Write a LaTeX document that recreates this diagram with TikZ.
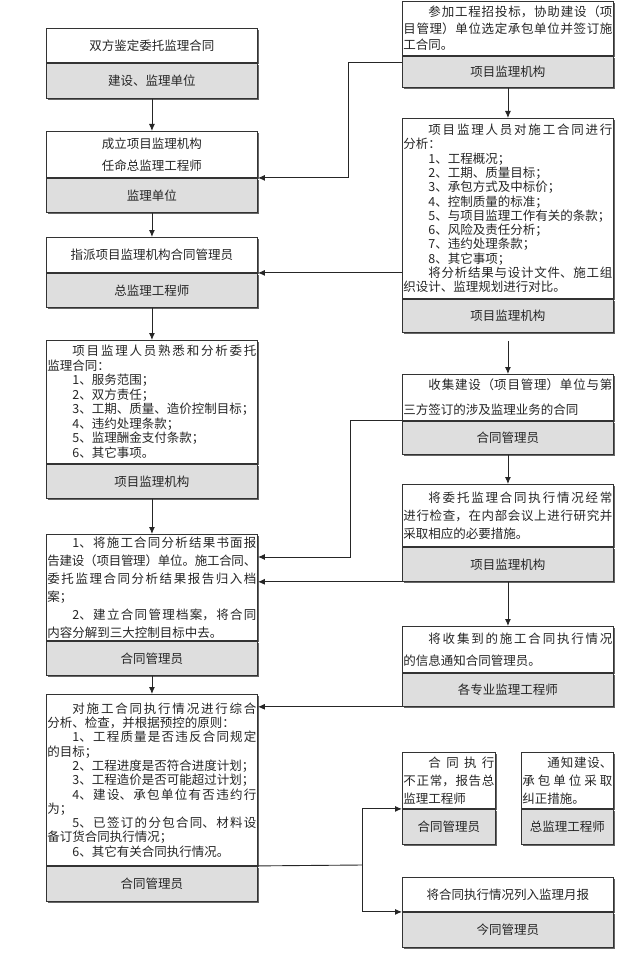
\documentclass[tikz,border=0pt]{standalone}
\usepackage{fontspec}
\newfontfamily\cjk{Noto Sans CJK SC}
\usetikzlibrary{arrows.meta,shadows}
\XeTeXlinebreaklocale "zh"
\XeTeXlinebreakskip=0pt plus 6pt minus 0.4pt

\tikzset{
  >={Latex[length=7pt,width=6pt]},
  rowskip/.style={font=\cjk\fontsize{12.5}{#1}\selectfont},
  box/.style={draw=black!80, line width=0.9pt, fill=white, text=black!85,
    inner xsep=1pt, inner ysep=0pt, anchor=north west, rowskip=14.3,
    drop shadow={shadow xshift=2pt, shadow yshift=-2pt, fill=black!60, opacity=1}},
  task/.style={box, minimum width=211pt, text width=209pt, align=justify},
  title/.style={box, minimum width=211pt, align=center},
  role/.style={box, fill=black!13, anchor=north, minimum width=211pt, align=center},
  link/.style={draw=black!85, line width=0.9pt},
}

\begin{document}
\begin{tikzpicture}[x=1pt,y=-1pt]
\useasboundingbox (0,0) rectangle (629,955);

% left column
\node[title, minimum height=34pt] (entrust) at (46,28) {双方鉴定委托监理合同};
\node[role, minimum height=35pt] (entrust-r) at (entrust.south) {建设、监理单位};

\node[title, minimum height=46pt, rowskip=22] (setup) at (46,131) {成立项目监理机构\\任命总监理工程师};
\node[role, minimum height=34pt] (setup-r) at (setup.south) {监理单位};

\node[title, minimum height=35pt] (assign) at (46,237) {指派项目监理机构合同管理员};
\node[role, minimum height=34pt] (assign-r) at (assign.south) {总监理工程师};

\node[task, minimum height=123pt, rowskip=14.5] (study) at (46,340) {\hspace*{2em}项目监理人员熟悉和分析委托\linebreak 监理合同：\\
  \hspace*{2em}1、服务范围；\\
  \hspace*{2em}2、双方责任；\\
  \hspace*{2em}3、工期、质量、造价控制目标；\\
  \hspace*{2em}4、违约处理条款；\\
  \hspace*{2em}5、监理酬金支付条款；\\
  \hspace*{2em}6、其它事项。};
\node[role, minimum height=34pt] (study-r) at (study.south) {项目监理机构};

\node[task, minimum height=106pt, rowskip=18] (report) at (46,534) {\hspace*{2em}1、将施工合同分析结果书面报\linebreak 告建设（项目管理）单位。施工合同、\linebreak 委托监理合同分析结果报告归入档\linebreak 案；\\
  \hspace*{2em}2、建立合同管理档案，将合同\linebreak 内容分解到三大控制目标中去。};
\node[role, minimum height=34pt] (report-r) at (report.south) {合同管理员};

\node[task, minimum height=171pt] (review) at (46,694) {\hspace*{2em}对施工合同执行情况进行综合\linebreak 分析、检查，并根据预控的原则：\\
  \hspace*{2em}1、工程质量是否违反合同规定\linebreak 的目标；\\
  \hspace*{2em}2、工程进度是否符合进度计划；\\
  \hspace*{2em}3、工程造价是否可能超过计划；\\
  \hspace*{2em}4、建设、承包单位有否违约行\linebreak 为；\\
  \hspace*{2em}5、已签订的分包合同、材料设\linebreak 备订货合同执行情况；\\
  \hspace*{2em}6、其它有关合同执行情况。};
\node[role, minimum height=35pt] (review-r) at (review.south) {合同管理员};

% right column
\node[task, minimum height=54pt, rowskip=16.5] (bid) at (402,1) {\hspace*{2em}参加工程招投标，协助建设（项\linebreak 目管理）单位选定承包单位并签订施\linebreak 工合同。};
\node[role, minimum height=31pt] (bid-r) at (bid.south) {项目监理机构};

\node[task, minimum height=180pt] (analyse) at (402,118) {\hspace*{2em}项目监理人员对施工合同进行\linebreak 分析：\\
  \hspace*{2em}1、工程概况；\\
  \hspace*{2em}2、工期、质量目标；\\
  \hspace*{2em}3、承包方式及中标价；\\
  \hspace*{2em}4、控制质量的标准；\\
  \hspace*{2em}5、与项目监理工作有关的条款；\\
  \hspace*{2em}6、风险及责任分析；\\
  \hspace*{2em}7、违约处理条款；\\
  \hspace*{2em}8、其它事项；\\
  \hspace*{2em}将分析结果与设计文件、施工组\linebreak 织设计、监理规划进行对比。};
\node[role, minimum height=33pt] (analyse-r) at (analyse.south) {项目监理机构};

\node[task, minimum height=46pt, rowskip=25] (collect) at (402,374) {\hspace*{2em}收集建设（项目管理）单位与第\linebreak 三方签订的涉及监理业务的合同};
\node[role, minimum height=33pt] (collect-r) at (collect.south) {合同管理员};

\node[task, minimum height=62pt, rowskip=18] (inspect) at (402,484) {\hspace*{2em}将委托监理合同执行情况经常\linebreak 进行检查，在内部会议上进行研究并\linebreak 采取相应的必要措施。};
\node[role, minimum height=34pt] (inspect-r) at (inspect.south) {项目监理机构};

\node[task, minimum height=46pt, rowskip=22] (notify) at (402,626) {\hspace*{2em}将收集到的施工合同执行情况\linebreak 的信息通知合同管理员。};
\node[role, minimum height=33pt] (notify-r) at (notify.south) {各专业监理工程师};

\node[task, minimum width=93pt, text width=91pt, minimum height=56pt, rowskip=18] (abnormal) at (402,752) {\hspace*{2em}合同执行\linebreak 不正常，报告总\linebreak 监理工程师};
\node[role, minimum width=93pt, minimum height=35pt] (abnormal-r) at (abnormal.south) {合同管理员};

\node[task, minimum width=92pt, text width=90pt, minimum height=56pt, rowskip=18] (correct) at (521,752) {\hspace*{2em}通知建设、\linebreak 承包单位采取\linebreak 纠正措施。};
\node[role, minimum width=92pt, minimum height=35pt] (correct-r) at (correct.south) {总监理工程师};

\node[title, minimum height=34pt] (monthly) at (402,877) {将合同执行情况列入监理月报};
\node[role, minimum height=35pt] (monthly-r) at (monthly.south) {今同管理员};

% down the columns
\draw[link,->] (entrust-r) -- (setup);
\draw[link,->] (setup-r) -- (assign);
\draw[link,->] (assign-r) -- (study);
\draw[link,->] (study-r) -- (report);
\draw[link,->] (report-r) -- (review);
\draw[link,->] (bid-r) -- (analyse);
\draw[link,->,shorten <=8pt] (analyse-r) -- (collect);
\draw[link,->] (collect-r) -- (inspect);
\draw[link,->] (inspect-r) -- (notify);

% across
\coordinate (k1) at (348,62);
\draw[link,->] ([yshift=-7pt]bid-r.north west) -| (k1 |- setup.south east) -- (setup.south east);
\draw[link,->] (analyse.west |- assign.south east) -- (assign.south east);
\coordinate (k2) at (350,557);
\draw[link,->] (collect.south west) -| (k2) -- (k2 -| report.east);
\draw[link,->] (inspect-r.south west) -- (inspect-r.south west -| report.east);
\draw[link,->] (notify-r.south west) -- (notify-r.south west -| review.east);
\coordinate (k3) at (362,865);
\draw[link] (review.south east) -- (k3);
\draw[link,->] (k3) |- (abnormal.south west);
\draw[link,->] (k3) |- (monthly.south west);
\end{tikzpicture}
\end{document}
